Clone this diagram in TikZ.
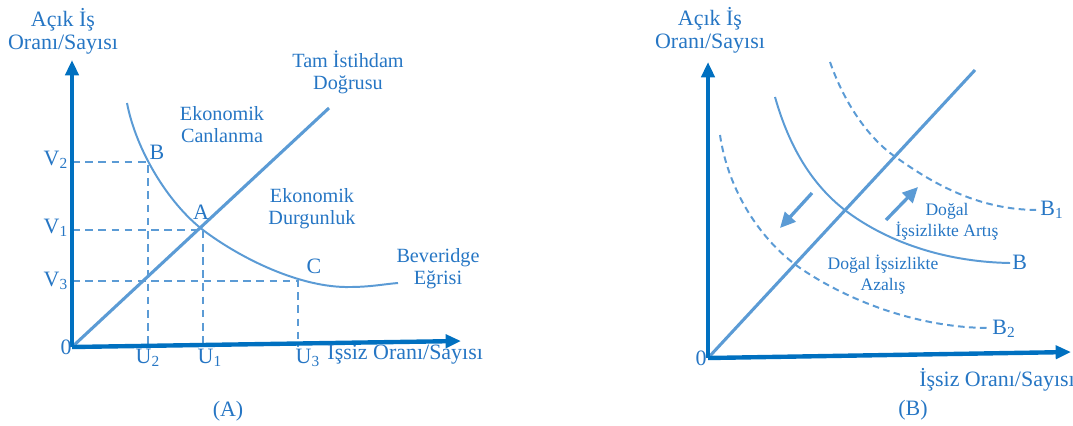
\documentclass[tikz,border=0pt]{standalone}
\usepackage{fontspec}
\setmainfont{Liberation Serif}
\usetikzlibrary{arrows.meta}
\definecolor{axisblue}{RGB}{0,112,192}
\definecolor{curveblue}{RGB}{91,155,213}
\definecolor{textblue}{RGB}{38,118,196}
\tikzset{
    axisline/.style={axisblue, line width=2pt, -{Triangle[length=7pt,width=6pt]}},
    bevcurve/.style={curveblue, line width=0.9pt},
    bevshift/.style={curveblue, line width=0.9pt, dash pattern=on 3pt off 2pt},
    fullline/.style={curveblue, line width=1.4pt},
    guide/.style={curveblue, line width=0.7pt, dash pattern=on 3.5pt off 2.5pt},
    shiftarrow/.style={curveblue, line width=1.5pt, -{Triangle[length=7pt,width=6.5pt]}},
    lbl/.style={textblue, font=\fontsize{10}{10.5}\selectfont, inner sep=0pt, align=center},
    midlbl/.style={textblue, font=\fontsize{9.2}{10}\selectfont, inner sep=0pt, align=center},
    smalllbl/.style={textblue, font=\fontsize{8}{9.5}\selectfont, inner sep=0pt, align=center}
}

\begin{document}
\begin{tikzpicture}[x=0.016cm, y=-0.016cm]
    \useasboundingbox (0,0) rectangle (1073,425);

    % ---------- (A) ----------
    \coordinate (oA) at (72,347);
    \coordinate (yA) at (72,60);
    \coordinate (xA) at (461,341);
    \coordinate (ptB) at (148,162);
    \coordinate (ptA) at (203,230);
    \coordinate (ptC) at (298,281);
    \coordinate (tamA) at (329,108);

    % dashed guides to the axes
    \draw[guide] (oA |- ptB) -- (ptB) -- (ptB |- oA);
    \draw[guide] (oA |- ptA) -- (ptA) -- (ptA |- oA);
    \draw[guide] (oA |- ptC) -- (ptC) -- (ptC |- oA);

    % full employment line and Beveridge curve
    \draw[fullline] (oA) -- (tamA);
    \draw[bevcurve] (127,103) .. controls (136,150) and (168,203) .. (ptA)
        .. controls (240,258) and (300,288) .. (350,287)
        .. controls (370,287) and (385,284) .. (398,283);

    % axes
    \draw[axisline] (oA) -- (yA);
    \draw[axisline] (oA) -- (xA);

    \node[lbl] (ylabA) at (63,31) {Açık İş\\Oranı/Sayısı};
    \node[lbl, anchor=west] (xlabA) at (327,355) {Işsiz Oranı/Sayısı};
    \node[lbl] (zeroA) at (66,347) {0};
    \node[lbl] (v2) at (56,160) {V\textsubscript{2}};
    \node[lbl] (v1) at (56,228) {V\textsubscript{1}};
    \node[lbl] (v3) at (56,281) {V\textsubscript{3}};
    \node[lbl] (u2) at (148,358) {U\textsubscript{2}};
    \node[lbl] (u1) at (210,358) {U\textsubscript{1}};
    \node[lbl] (u3) at (308,358) {U\textsubscript{3}};
    \node[lbl] (labB) at (157,152) {B};
    \node[lbl] (labA) at (201,212) {A};
    \node[lbl] (labC) at (314,266) {C};
    \node[midlbl] (tamlab) at (348,72) {Tam İstihdam\\Doğrusu};
    \node[midlbl] (canlan) at (222,125) {Ekonomik\\Canlanma};
    \node[midlbl] (durgun) at (312,209) {Ekonomik\\Durgunluk};
    \node[midlbl] (bevlab) at (438,269) {Beveridge\\Eğrisi};
    \node[lbl] (capA) at (228,411) {(A)};

    % ---------- (B) ----------
    \coordinate (oB) at (708,358);
    \coordinate (yB) at (708,62);
    \coordinate (xB) at (1071,352);
    \coordinate (tamB) at (975,70);
    \coordinate (dnS) at (812,193);
    \coordinate (dnE) at (780,228);
    \coordinate (upS) at (886,220);
    \coordinate (upE) at (918,187);

    \draw[fullline] (oB) -- (tamB);
    \draw[bevcurve] (775,97) .. controls (790,150) and (815,190) .. (853,216)
        .. controls (895,245) and (950,262) .. (1010,263);
    \draw[bevshift] (830,62) .. controls (845,105) and (870,140) .. (897,158)
        .. controls (935,185) and (980,210) .. (1038,210);
    \draw[bevshift] (720,135) .. controls (728,190) and (760,240) .. (800,268)
        .. controls (850,302) and (920,328) .. (990,328);

    % shifts of the curve
    \draw[shiftarrow] (dnS) -- (dnE);
    \draw[shiftarrow] (upS) -- (upE);

    % axes
    \draw[axisline] (oB) -- (yB);
    \draw[axisline] (oB) -- (xB);

    \node[lbl] (ylabB) at (710,30) {Açık İş\\Oranı/Sayısı};
    \node[lbl] (xlabB) at (997,380) {İşsiz Oranı/Sayısı};
    \node[lbl] (zeroB) at (701,358) {0};
    \node[lbl, anchor=west] (curB) at (1012,262) {B};
    \node[lbl, anchor=west] (curB1) at (1040,210) {B\textsubscript{1}};
    \node[lbl, anchor=west] (curB2) at (992,329) {B\textsubscript{2}};
    \node[smalllbl] (artis) at (947,222) {Doğal\\İşsizlikte Artış};
    \node[smalllbl] (azalis) at (883,275) {Doğal İşsizlikte\\Azalış};
    \node[lbl] (capB) at (913,410) {(B)};
\end{tikzpicture}
\end{document}
